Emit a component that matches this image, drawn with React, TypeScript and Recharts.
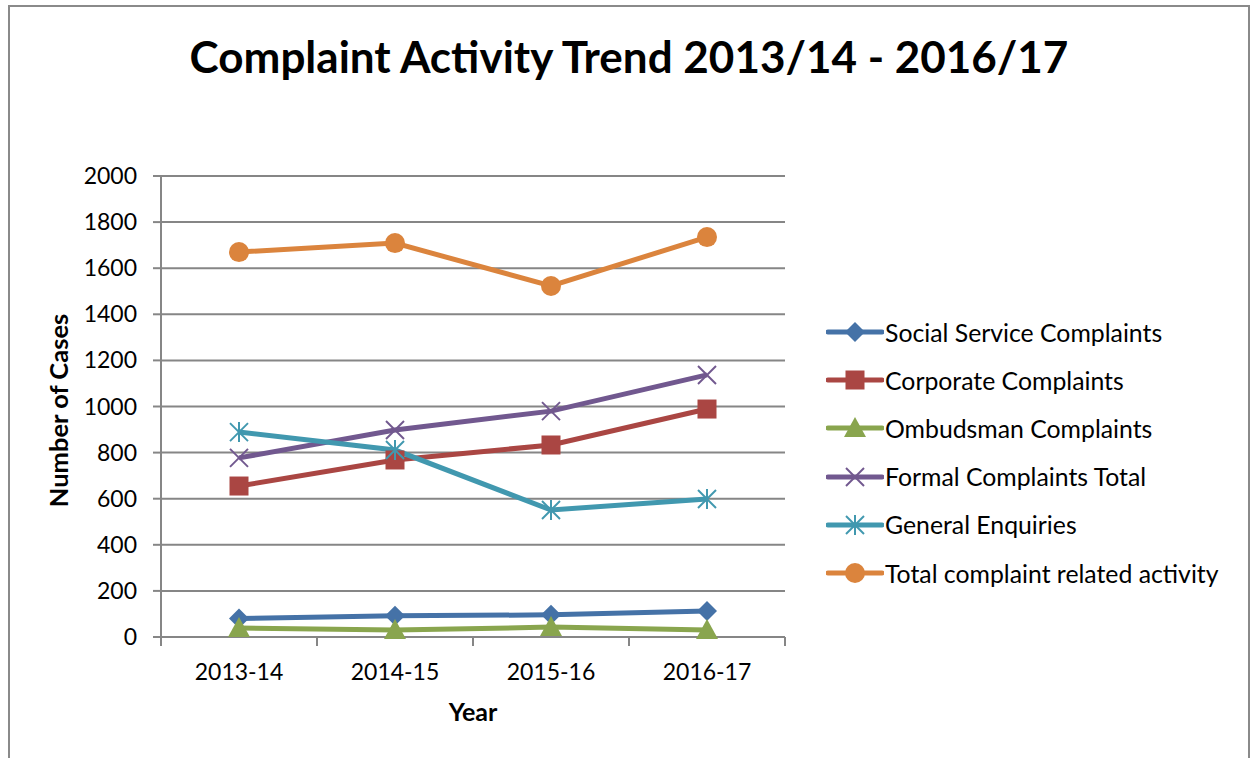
import React from "react";
import { LineChart, Line, XAxis, YAxis, CartesianGrid } from "recharts";

const years = ["2013-14", "2014-15", "2015-16", "2016-17"];
const socialService = [80, 92, 96, 113];
const corporate = [655, 768, 833, 989];
const ombudsman = [39, 30, 43, 30];
const formalTotal = [777, 898, 980, 1137];
const generalEnquiries = [889, 811, 551, 599];
const totalActivity = [1670, 1709, 1523, 1735];
const yTicks = [0, 200, 400, 600, 800, 1000, 1200, 1400, 1600, 1800, 2000];

const FONT = "Lato, 'Open Sans', sans-serif";

type Shape = "diamond" | "square" | "triangle" | "x" | "star" | "circle";

const series: { key: string; name: string; color: string; shape: Shape; values: number[] }[] = [
  { key: "social", name: "Social Service Complaints", color: "#4572A7", shape: "diamond", values: socialService },
  { key: "corporate", name: "Corporate Complaints", color: "#AA4643", shape: "square", values: corporate },
  { key: "ombudsman", name: "Ombudsman Complaints", color: "#89A54E", shape: "triangle", values: ombudsman },
  { key: "formal", name: "Formal Complaints Total", color: "#71588F", shape: "x", values: formalTotal },
  { key: "general", name: "General Enquiries", color: "#4198AF", shape: "star", values: generalEnquiries },
  { key: "total", name: "Total complaint related activity", color: "#DB843D", shape: "circle", values: totalActivity },
];

const data = years.map((y, i) => {
  const row: Record<string, any> = { year: y };
  series.forEach((s) => (row[s.key] = s.values[i]));
  return row;
});

function Marker({ cx, cy, shape, color }: { cx: number; cy: number; shape: Shape; color: string }) {
  if (cx == null || cy == null) return null;
  switch (shape) {
    case "diamond":
      return <polygon points={`${cx},${cy - 10} ${cx + 10},${cy} ${cx},${cy + 10} ${cx - 10},${cy}`} fill={color} />;
    case "square":
      return <rect x={cx - 9.5} y={cy - 9.5} width={19} height={19} fill={color} />;
    case "triangle":
      return <polygon points={`${cx},${cy - 11} ${cx + 11},${cy + 9} ${cx - 11},${cy + 9}`} fill={color} />;
    case "x":
      return (
        <g stroke={color} strokeWidth={2}>
          <line x1={cx - 9} y1={cy - 9} x2={cx + 9} y2={cy + 9} />
          <line x1={cx - 9} y1={cy + 9} x2={cx + 9} y2={cy - 9} />
        </g>
      );
    case "star":
      return (
        <g stroke={color} strokeWidth={2}>
          <line x1={cx - 9} y1={cy - 9} x2={cx + 9} y2={cy + 9} />
          <line x1={cx - 9} y1={cy + 9} x2={cx + 9} y2={cy - 9} />
          <line x1={cx} y1={cy - 10} x2={cx} y2={cy + 10} />
        </g>
      );
    case "circle":
    default:
      return <circle cx={cx} cy={cy} r={10} fill={color} />;
  }
}

const HALF_BAND = 78;

function XTick(props: any) {
  const { x, y, payload, index } = props;
  return (
    <g>
      <line x1={x - HALF_BAND} y1={y - 8} x2={x - HALF_BAND} y2={y + 1} stroke="#868686" strokeWidth={2} />
      {index === years.length - 1 && (
        <line x1={x + HALF_BAND} y1={y - 8} x2={x + HALF_BAND} y2={y + 1} stroke="#868686" strokeWidth={2} />
      )}
      <text x={x} y={y + 35} textAnchor="middle" fontFamily={FONT} fontSize={23} fill="#000">
        {payload.value}
      </text>
    </g>
  );
}

function YTick(props: any) {
  const { x, y, payload } = props;
  return (
    <text x={x - 14} y={y + 8} textAnchor="end" fontFamily={FONT} fontSize={23} fill="#000">
      {payload.value}
    </text>
  );
}

export default function App() {
  return (
    <div style={{ position: "absolute", left: 0, top: 0, width: 1255, height: 758, background: "#fff", overflow: "hidden" }}>
      <div
        style={{
          position: "absolute",
          left: 8,
          top: 5,
          width: 1242,
          height: 800,
          border: "2px solid #8a8a8a",
          boxSizing: "border-box",
        }}
      />
      <div
        style={{
          position: "absolute",
          left: 0,
          width: 1258,
          top: 29,
          textAlign: "center",
          fontFamily: FONT,
          fontWeight: 700,
          fontSize: 44,
          lineHeight: "54px",
          color: "#000",
        }}
      >
        Complaint Activity Trend 2013/14 - 2016/17
      </div>
      <div style={{ position: "absolute", left: 0, top: 0 }}>
        <LineChart width={1255} height={758} data={data} margin={{ top: 176, right: 470, bottom: 0, left: 0 }}>
          <CartesianGrid vertical={false} stroke="#868686" strokeWidth={2} />
          <XAxis
            dataKey="year"
            height={121}
            padding={{ left: HALF_BAND, right: HALF_BAND }}
            stroke="#868686"
            strokeWidth={2}
            tickLine={false}
            tick={<XTick />}
            interval={0}
            label={{ value: "Year", position: "insideTop", offset: 66, fontFamily: FONT, fontWeight: 700, fontSize: 25, fill: "#000" }}
          />
          <YAxis
            width={161}
            domain={[0, 2000]}
            ticks={yTicks}
            interval={0}
            stroke="#868686"
            strokeWidth={2}
            tickLine={{ stroke: "#868686", strokeWidth: 2 }}
            tickSize={8}
            tick={<YTick />}
            label={{
              value: "Number of Cases",
              angle: -90,
              position: "insideLeft",
              offset: 0,
              dx: 59,
              dy: 4,
              fontFamily: FONT,
              fontWeight: 700,
              fontSize: 25.5,
              fill: "#000",
              style: { textAnchor: "middle" },
            }}
          />
          {series.map((s) => (
            <Line
              key={s.key}
              dataKey={s.key}
              name={s.name}
              stroke={s.color}
              strokeWidth={5}
              isAnimationActive={false}
              dot={(p: any) => <Marker key={`${s.key}-${p.index}`} cx={p.cx} cy={p.cy} shape={s.shape} color={s.color} />}
              activeDot={false}
            />
          ))}
        </LineChart>
      </div>
      <div style={{ position: "absolute", left: 826, top: 308, fontFamily: FONT, fontSize: 24.8, color: "#000" }}>
        {series.map((s) => (
          <div key={s.key} style={{ display: "flex", alignItems: "center", height: 48.2 }}>
            <svg width={58} height={24} style={{ display: "block" }}>
              <line x1={2} y1={12} x2={56} y2={12} stroke={s.color} strokeWidth={5} strokeLinecap="round" />
              <Marker cx={29} cy={12} shape={s.shape} color={s.color} />
            </svg>
            <span style={{ marginLeft: 1, whiteSpace: "nowrap" }}>{s.name}</span>
          </div>
        ))}
      </div>
    </div>
  );
}
